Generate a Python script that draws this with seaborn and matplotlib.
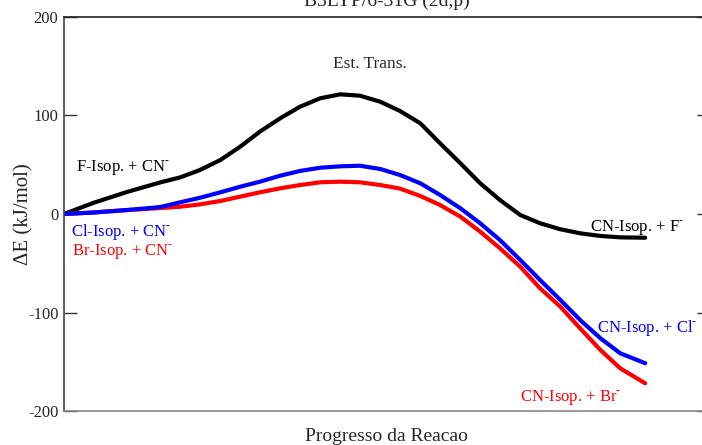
#!/usr/bin/env python
"""
Energy profile along the reaction coordinate (B3LYP/6-31G (2d,p)).
"""

# ---------- PREP
import numpy as np
import pandas as pd
import seaborn as sns
import matplotlib.pyplot as plt

# ---------- DATA
# Reaction coordinate (normalised) and relative energies in kJ/mol
reac_coord = [0.0, 0.05, 0.108, 0.165, 0.2, 0.234, 0.269, 0.303, 0.337, 0.372,
              0.406, 0.441, 0.475, 0.509, 0.544, 0.578, 0.613, 0.647, 0.682, 0.716,
              0.75, 0.785, 0.819, 0.854, 0.888, 0.923, 0.957, 1.0]
dE_F = [0, 11.2, 22.3, 32.0, 37.2, 44.7, 54.8, 68.3, 83.6, 97.2,
        108.9, 117.5, 121.5, 120.1, 114.0, 104.6, 92.1, 71.8, 51.5, 31.2,
        14.2, -1.0, -9.4, -15.5, -19.6, -22.3, -23.7, -24.1]
dE_Cl = [0, 1.5, 4, 7, 11.9, 16.5, 22.0, 27.7, 32.8, 38.9,
         43.7, 47.0, 48.4, 49.0, 45.7, 39.6, 31.2, 19.3, 5.8, -9.4,
         -26.4, -46.7, -67.0, -87.3, -107.6, -126.2, -141.4, -151.5]
dE_Br = [0, 1.5, 4, 6, 7.4, 9.8, 13.2, 17.6, 22.0, 26.1,
         29.4, 32.2, 32.8, 32.2, 29.4, 25.8, 18.3, 9.1, -2.7, -17.9,
         -34.8, -53.5, -75.4, -94.1, -116.1, -138.1, -156.7, -171.9]

y_ticks = [-200, -100, 0, 100, 200]

df = pd.DataFrame({"coord": reac_coord, "F": dE_F, "Cl": dE_Cl, "Br": dE_Br})

# ---------- THEME
sns.set_theme(style="white")
plt.rcParams["font.family"] = ["Liberation Serif", "DejaVu Serif"]
plt.rcParams["axes.unicode_minus"] = False
plt.rcParams["mathtext.fontset"] = "custom"
plt.rcParams["mathtext.rm"] = "Liberation Serif"

# superscript hyphen for the ions
ion = r"$^{\text{-}}$"

# ---------- PLOT
fig = plt.figure(figsize=(7.02, 4.45), dpi=100)
ax = fig.add_axes([0.0912, 0.0764, 0.919, 0.8854])

sns.lineplot(data=df, x="coord", y="F", color="black", lw=3, ax=ax)
sns.lineplot(data=df, x="coord", y="Br", color="#ff0000", lw=3, ax=ax)
sns.lineplot(data=df, x="coord", y="Cl", color="#0000ff", lw=3, ax=ax)

ax.set_xlim(0, 1.11)
ax.set_ylim(-200, 200)
ax.set_yticks(y_ticks)
ax.set_xticks([])
ax.tick_params(axis="y", direction="in", length=9, width=1, color="#333333",
               labelsize=12, left=True, right=True, pad=4)

for side, col in [("left", "#444444"), ("bottom", "#888888"),
                  ("top", "#222222"), ("right", "#444444")]:
    ax.spines[side].set_color(col)
    ax.spines[side].set_linewidth(1.2)

ax.set_xlabel("Progresso da Reacao", fontsize=14, labelpad=12)
ax.set_ylabel("ΔE (kJ/mol)", fontsize=15)
ax.yaxis.set_label_coords(-0.048, 0.5)
ax.set_title("B3LYP/6-31G (2d,p)", fontsize=14, pad=8)

# Species annotations
ax.text(0.527, 152, "Est. Trans.", ha="center", va="center", fontsize=12.5)
ax.text(0.021, 47, "F-Isop. + CN" + ion, ha="left", va="center", fontsize=12, color="black")
ax.text(0.012, -18, "Cl-Isop. + CN" + ion, ha="left", va="center", fontsize=12, color="#0000ff")
ax.text(0.014, -38.5, "Br-Isop. + CN" + ion, ha="left", va="center", fontsize=12, color="#ff0000")
ax.text(0.905, -14, "CN-Isop. + F" + ion, ha="left", va="center", fontsize=12, color="black")
ax.text(0.917, -116, "CN-Isop. + Cl" + ion, ha="left", va="center", fontsize=12, color="#0000ff")
ax.text(0.785, -186, "CN-Isop. + Br" + ion, ha="left", va="center", fontsize=12, color="#ff0000")

fig.savefig("out.png", dpi=100)
